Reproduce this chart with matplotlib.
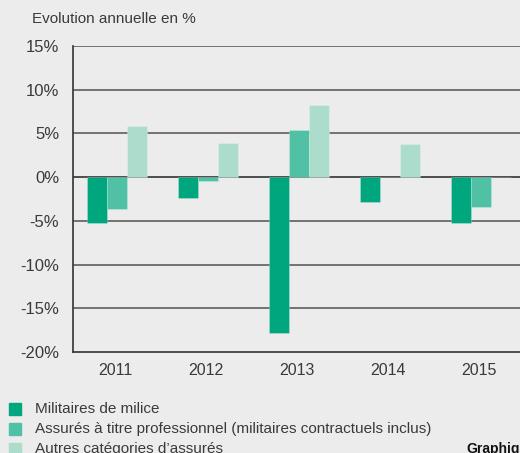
import matplotlib
matplotlib.use("Agg")
import matplotlib.pyplot as plt
from matplotlib.patches import Rectangle
import numpy as np

years = [2011, 2012, 2013, 2014, 2015]
militaires_milice = [-5.2, -2.4, -17.8, -2.8, -5.3]
assures_pro = [-3.7, -0.4, 5.4, 0.0, -3.4]
autres = [5.9, 3.9, 8.2, 3.8, 0.0]
series_labels = [
    "Militaires de milice",
    "Assurés à titre professionnel (militaires contractuels inclus)",
    "Autres catégories d’assurés",
]
colors = ["#00a67e", "#50c1a4", "#abdccc"]
yticks = [15, 10, 5, 0, -5, -10, -15, -20]

bg = "#ebeceb"
txt = "#3a3a3a"
plt.rcParams["font.family"] = ["Liberation Sans", "DejaVu Sans"]

W, H = 520, 453
fig = plt.figure(figsize=(W / 100, H / 100), dpi=100, facecolor=bg)
ax = fig.add_axes([73 / W, 1 - 352 / H, (W - 73) / W, (352 - 46) / H])
ax.set_facecolor(bg)

x = np.arange(len(years))
bw = 0.22
for i, vals in enumerate([militaires_milice, assures_pro, autres]):
    ax.bar(x + (i - 1) * bw, vals, width=bw, color=colors[i], zorder=3,
           edgecolor=(1, 1, 1, 0.25), linewidth=0.6)

for t in yticks:
    if t == -20:
        continue
    ax.axhline(t, color="#333333" if t == 0 else "#5e5e5e", lw=1.2, zorder=2)

ax.set_ylim(-20, 15)
ax.set_xlim(-0.4835, 4.4286)
ax.set_yticks(yticks)
ax.set_yticklabels([f"{t}%" for t in yticks])
ax.set_xticks(x - 0.02)
ax.set_xticklabels([str(y) for y in years])
ax.tick_params(axis="both", length=0, colors=txt)
ax.tick_params(axis="y", pad=10, labelsize=12)
ax.tick_params(axis="x", pad=8, labelsize=11.5)
for s in ["top", "right"]:
    ax.spines[s].set_visible(False)
for s in ["left", "bottom"]:
    ax.spines[s].set_color("#333333")
    ax.spines[s].set_linewidth(1.2)

fig.text(32 / W, 1 - 19 / H, "Evolution annuelle en %", color=txt,
         fontsize=11, ha="left", va="center")

# legend drawn as coloured squares with labels underneath the chart
for i, lab in enumerate(series_labels):
    yc = 409 + 20 * i
    fig.add_artist(Rectangle((9 / W, 1 - (yc + 6) / H), 12 / W, 12 / H,
                             transform=fig.transFigure, color=colors[i]))
    fig.text(35 / W, 1 - yc / H, lab, color=txt, fontsize=11,
             ha="left", va="center")

fig.text(466 / W, 1 - 449 / H, "Graphique", color="#111111", fontsize=10,
         fontweight="bold", ha="left", va="center")

fig.savefig("out.png", dpi=100, facecolor=bg)
